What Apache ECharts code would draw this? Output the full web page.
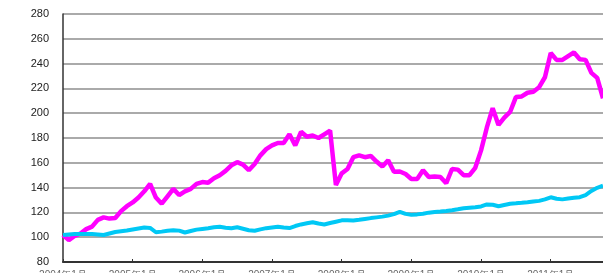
<!DOCTYPE html>
<html>
<head>
<meta charset="utf-8">
<script src="https://cdn.jsdelivr.net/npm/echarts@6/dist/echarts.min.js"></script>
<style>
    html, body { margin: 0; padding: 0; background: #fff; }
    #chart { width: 603px; height: 273px; }
</style>
</head>
<body>
<div id="chart"></div>
<script>
    // monthly points, 2004-01 .. 2011-10
    const startYear = 2004
    const monthCount = 94
    const months = []
    for (let i = 0; i < monthCount; i++) {
        months.push((startYear + Math.floor(i / 12)) + '年' + (i % 12 + 1) + '月')
    }

    const pinkValues = [
        101.8, 97.7, 101, 103, 106.5, 108.5, 114, 116, 115, 115.5,
        121, 125, 128, 132, 137, 143, 132, 127, 133, 139,
        134, 137, 139, 143, 144.5, 144, 147.5, 150, 153.5, 158,
        160.5, 158.5, 154, 159, 166, 171, 174, 176, 176, 183,
        174, 185, 181, 182, 180, 183, 186, 142, 151.5, 155,
        164.5, 166, 164.5, 165.5, 161, 157, 162, 152.8, 153, 151,
        147, 147, 154, 148.5, 149, 148.5, 143.5, 155, 154.5, 150,
        150, 156, 170, 188.5, 204, 190.5, 196.5, 201, 213, 213.5,
        216.5, 217.3, 221, 229, 248.5, 243, 243, 246, 249, 243.5,
        243, 232.5, 228.5, 212
    ]

    const cyanValues = [
        101.8, 102.2, 102.5, 102.6, 102.6, 102.5, 102.2, 101.8, 103, 104.2,
        104.8, 105.4, 106.2, 107, 107.8, 107.5, 104, 104.5, 105.2, 105.6,
        105.3, 103.8, 105, 106.1, 106.7, 107.3, 108, 108.4, 107.7, 107.3,
        108, 106.8, 105.6, 105.2, 106.3, 107.3, 107.9, 108.5, 107.8, 107.4,
        109, 110.3, 111.2, 112.1, 111, 110.3, 111.4, 112.5, 113.6, 113.7,
        113.4, 114, 114.7, 115.4, 116, 116.6, 117.4, 118.6, 120.5, 118.8,
        118, 118.4, 118.9, 119.8, 120.4, 120.7, 121.2, 121.8, 122.5, 123.3,
        123.8, 124.2, 124.8, 126.4, 126.2, 125, 126, 127, 127.3, 127.7,
        128.2, 128.8, 129.3, 130.5, 132.2, 131, 130.5, 131.2, 131.8, 132.3,
        134, 137.3, 139.8, 141.5
    ]

    const chart = echarts.init(document.getElementById('chart'))
    const option = {
        animation: false,
        backgroundColor: '#fff',
        grid: {
            left: 63,
            right: 0,
            top: 14,
            bottom: 11,
            outerBoundsMode: 'none'
        },
        xAxis: {
            type: 'category',
            data: months,
            boundaryGap: false,
            axisLine: { lineStyle: { color: '#333', width: 2 } },
            axisTick: { interval: 11, inside: true, length: 3, lineStyle: { color: '#333' } },
            axisLabel: { interval: 11, margin: 8, fontSize: 10, color: '#666', fontFamily: 'Liberation Sans' },
            splitLine: { show: false }
        },
        yAxis: {
            type: 'value',
            min: 80,
            max: 280,
            interval: 20,
            axisLine: { show: true, lineStyle: { color: '#333', width: 1.5 } },
            axisTick: { show: false },
            axisLabel: { margin: 14, fontSize: 11, color: '#222', fontFamily: 'Liberation Sans' },
            splitLine: { lineStyle: { color: '#aaa', width: 2 } }
        },
        series: [
            {
                type: 'line',
                data: pinkValues,
                showSymbol: false,
                lineStyle: { color: '#ff00ff', width: 4.5 },
                itemStyle: { color: '#ff00ff' }
            },
            {
                type: 'line',
                data: cyanValues,
                showSymbol: false,
                lineStyle: { color: '#00c8f5', width: 4 },
                itemStyle: { color: '#00c8f5' }
            }
        ]
    }
    chart.setOption(option)
</script>
</body>
</html>
